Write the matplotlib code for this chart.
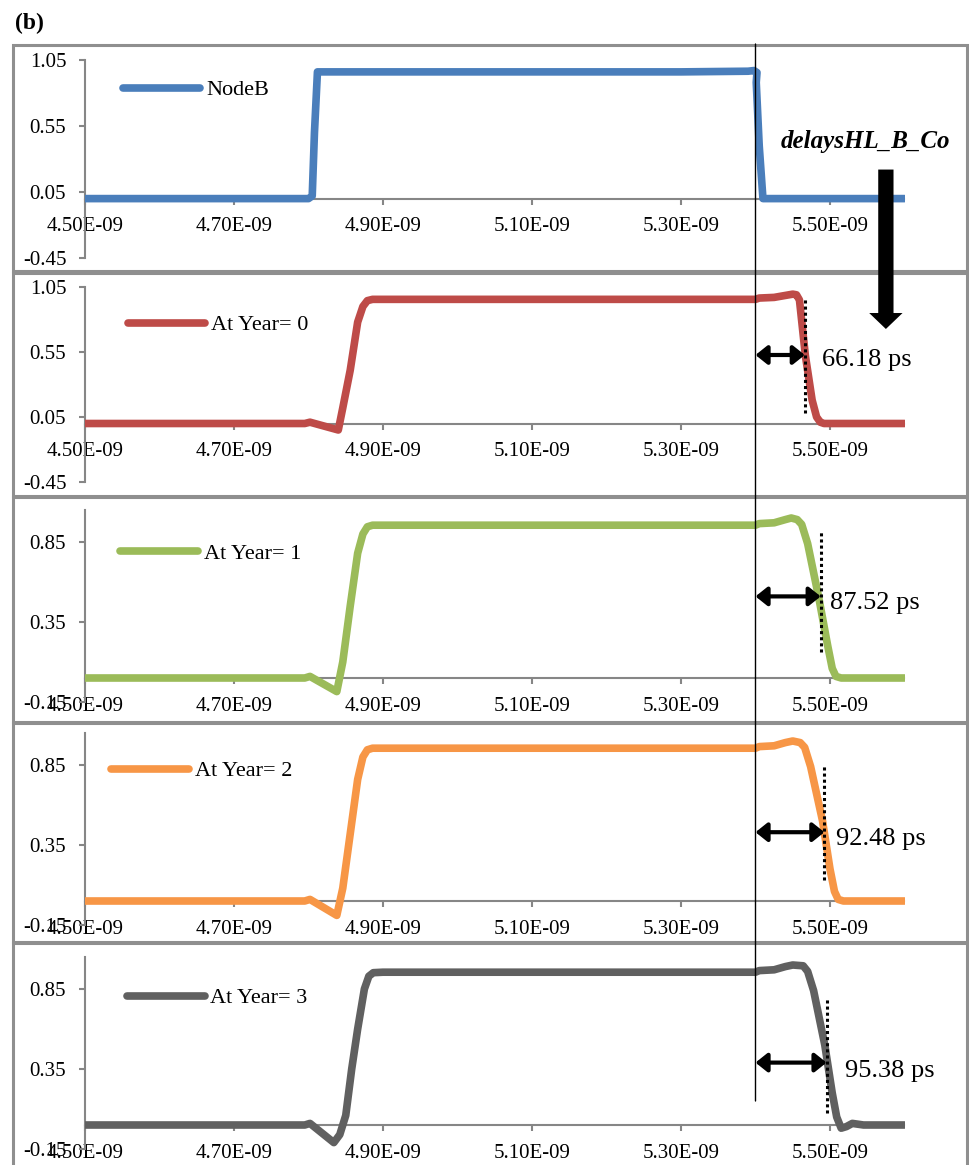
import numpy as np
import matplotlib.pyplot as plt
from matplotlib.patches import Rectangle, ConnectionPatch

plt.rcParams.update({'font.family': 'Liberation Serif', 'font.size': 14})

W, H = 969, 1165  # output size in px

# ---- waveforms (time in ns, voltage normalised) ----
t_nodeb = [4.50, 4.800, 4.805, 4.808, 4.812, 4.830, 5.300, 5.390, 5.398, 5.402, 5.401, 5.405, 5.410, 5.600]
v_nodeb = [0.0, 0.0, 0.02, 0.50, 0.96, 0.96, 0.96, 0.965, 0.97, 0.955, 0.88, 0.40, 0.0, 0.0]

t_y0 = [4.50, 4.795, 4.802, 4.840, 4.846, 4.856, 4.866, 4.873, 4.879, 4.886, 4.900, 5.400, 5.405,
        5.425, 5.440, 5.450, 5.455, 5.459, 5.467, 5.476, 5.482, 5.487, 5.492, 5.600]
v_y0 = [0.0, 0.0, 0.01, -0.05, 0.12, 0.41, 0.78, 0.90, 0.945, 0.955, 0.955, 0.955, 0.965,
        0.97, 0.985, 0.995, 0.99, 0.95, 0.52, 0.18, 0.05, 0.01, 0.0, 0.0]

t_y1 = [4.50, 4.795, 4.802, 4.838, 4.846, 4.856, 4.866, 4.873, 4.879, 4.886, 4.900, 5.400, 5.405,
        5.425, 5.440, 5.448, 5.456, 5.462, 5.470, 5.485, 5.497, 5.503, 5.508, 5.515, 5.600]
v_y1 = [0.0, 0.0, 0.01, -0.085, 0.10, 0.45, 0.78, 0.90, 0.945, 0.955, 0.955, 0.955, 0.965,
        0.97, 0.99, 1.0, 0.99, 0.96, 0.84, 0.50, 0.20, 0.06, 0.01, 0.0, 0.0]

t_y2 = [4.50, 4.795, 4.802, 4.838, 4.846, 4.856, 4.866, 4.873, 4.879, 4.886, 4.900, 5.400, 5.405,
        5.425, 5.440, 5.450, 5.460, 5.466, 5.474, 5.490, 5.500, 5.506, 5.511, 5.518, 5.600]
v_y2 = [0.0, 0.0, 0.01, -0.09, 0.08, 0.42, 0.76, 0.90, 0.945, 0.955, 0.955, 0.955, 0.965,
        0.97, 0.99, 1.0, 0.99, 0.96, 0.84, 0.50, 0.20, 0.06, 0.01, 0.0, 0.0]

t_y3 = [4.50, 4.795, 4.802, 4.834, 4.842, 4.850, 4.858, 4.866, 4.875, 4.881, 4.887, 4.900, 5.400, 5.405,
        5.425, 5.440, 5.450, 5.464, 5.470, 5.478, 5.493, 5.503, 5.509, 5.515, 5.522, 5.530, 5.545, 5.600]
v_y3 = [0.0, 0.0, 0.01, -0.11, -0.06, 0.06, 0.35, 0.60, 0.85, 0.93, 0.952, 0.955, 0.955, 0.965,
        0.97, 0.99, 1.0, 0.995, 0.96, 0.84, 0.50, 0.20, 0.05, -0.02, -0.01, 0.01, 0.0, 0.0]

series_t = [t_nodeb, t_y0, t_y1, t_y2, t_y3]
series_v = [v_nodeb, v_y0, v_y1, v_y2, v_y3]
labels = ['NodeB', 'At Year= 0', 'At Year= 1', 'At Year= 2', 'At Year= 3']
colors = ['#4A7EBB', '#BE4B48', '#9BBB59', '#F79646', '#606060']

xticks = [4.50e-9, 4.70e-9, 4.90e-9, 5.10e-9, 5.30e-9, 5.50e-9]
xtick_labels = ['4.50E-09', '4.70E-09', '4.90E-09', '5.10E-09', '5.30E-09', '5.50E-09']
yticks_a = [-0.45, 0.05, 0.55, 1.05]
yticks_b = [-0.15, 0.35, 0.85]

t_ref = 5.40e-9                       # NodeB falling edge reference
delays_ps = [66.18, 87.52, 92.48, 95.38]

# ---- layout (px) ----
def fx(px): return px / W
def fy(py): return 1 - py / H

boxes = [(45, 271), (273, 496), (497, 722), (723, 942), (943, 1185)]
ax_px = [(60, 258), (287, 482), (510, 702), (733, 925), (957, 1149)]
ylims = [(-0.45, 1.05), (-0.45, 1.05), (-0.15, 1.05), (-0.15, 1.05), (-0.15, 1.05)]
yticks = [yticks_a, yticks_a, yticks_b, yticks_b, yticks_b]
leg_pos = [(0.046, 0.848), (0.052, 0.805), (0.043, 0.771), (0.032, 0.802), (0.051, 0.786)]

fig = plt.figure(figsize=(W / 100, H / 100), dpi=100)

for top, bot in boxes:
    fig.add_artist(Rectangle((fx(13), fy(bot)), fx(967) - fx(13), fy(top) - fy(bot),
                             transform=fig.transFigure, fill=False, ec='#8f8f8f', lw=2.2, zorder=0))

axes = []
for i, (top, bot) in enumerate(ax_px):
    ax = fig.add_axes([fx(85), fy(bot), fx(904.5) - fx(85), fy(top) - fy(bot)])
    ax.set_facecolor('none')
    ln, = ax.plot(np.array(series_t[i]) * 1e-9, series_v[i], color=colors[i], lw=5.5,
                  solid_capstyle='round', solid_joinstyle='round', zorder=3)
    ax.set_xlim(4.5e-9, 5.6e-9)
    ax.set_ylim(*ylims[i])
    ax.set_xticks(xticks, labels=xtick_labels)
    ax.set_yticks(yticks[i], labels=['%.2f' % v for v in yticks[i]])
    ax.spines['bottom'].set_position(('data', 0))
    ax.spines['top'].set_visible(False)
    ax.spines['right'].set_visible(False)
    for s in ['bottom', 'left']:
        ax.spines[s].set_color('#868686')
        ax.spines[s].set_linewidth(1.5)
    ax.tick_params(axis='both', direction='out', length=4, width=1.5, color='#868686',
                   labelsize=15, pad=9.5)
    ax.legend([ln], [labels[i]], loc='center left', bbox_to_anchor=leg_pos[i], frameon=False,
              handlelength=3.5, handletextpad=0.25, borderpad=0, borderaxespad=0, fontsize=16)
    axes.append(ax)

# thin reference line through all panels
fig.add_artist(ConnectionPatch(xyA=(t_ref, 1 + 16 / 198), coordsA=axes[0].get_xaxis_transform(),
                               xyB=(t_ref, 0.15), coordsB=axes[4].transData,
                               color='k', lw=1.0, zorder=10))

# big arrow pointing from the title to the first delay
axes[0].text(5.548e-9, 0.43, 'delaysHL_B_Co', fontsize=18, fontweight='bold', fontstyle='italic',
             ha='center', va='center')
fig.add_artist(ConnectionPatch(xyA=(5.575e-9, 0.22), coordsA=axes[0].transData,
                               xyB=(5.575e-9, 0.727), coordsB=axes[1].transData,
                               arrowstyle='simple,head_length=11.5,head_width=24,tail_width=11',
                               mutation_scale=1, fc='k', ec='k', lw=0, zorder=10))

# delay markers
dot_y = [(0.08, 0.97), (0.16, 0.91), (0.13, 0.85), (0.075, 0.80)]
arrow_y = [0.527, 0.51, 0.43, 0.39]
label_x = [5.489e-9, 5.500e-9, 5.508e-9, 5.520e-9]
label_y = [0.49, 0.47, 0.39, 0.34]
for i, ax in enumerate(axes[1:]):
    x_end = t_ref + delays_ps[i] * 1e-12
    ax.plot([x_end, x_end], dot_y[i], color='k', ls=(0, (1, 1)), lw=2.2, zorder=5)
    ax.annotate('', xy=(x_end, arrow_y[i]), xytext=(t_ref, arrow_y[i]),
                arrowprops=dict(arrowstyle='<|-|>,head_length=0.5,head_width=0.4', lw=3, color='k',
                                shrinkA=0, shrinkB=0, mutation_scale=14), zorder=6)
    ax.text(label_x[i], label_y[i], '%.2f ps' % delays_ps[i], fontsize=19, ha='left', va='center')

fig.text(fx(15), fy(23), '(b)', fontsize=17, fontweight='bold', ha='left', va='center')

fig.savefig('out.png', dpi=100)
